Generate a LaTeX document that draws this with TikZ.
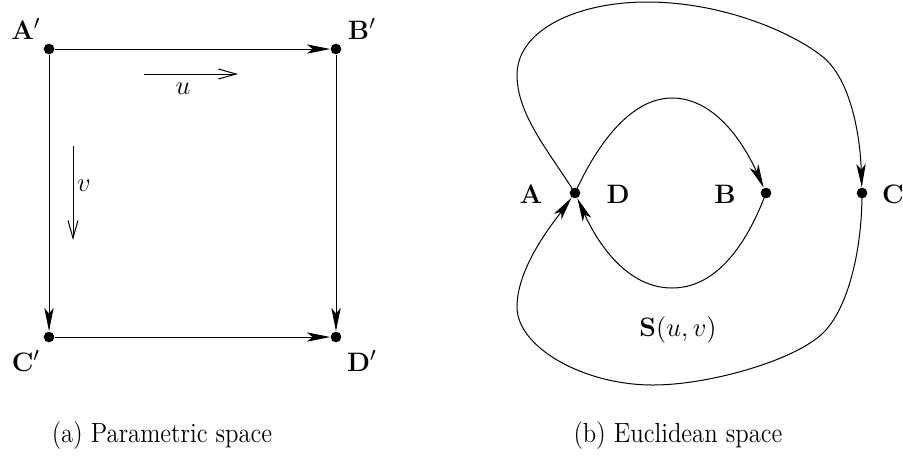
\documentclass[tikz,border=0pt]{standalone}
\usepackage{graphicx}
\usetikzlibrary{arrows.meta}
\newcommand{\capfont}{\fontsize{12.5}{15}\selectfont}
\begin{document}
\begin{tikzpicture}[x=0.45pt,y=-0.45pt,
  line width=0.45pt,
  font=\fontsize{13}{15}\selectfont,
  dot/.style={circle,fill=black,inner sep=0pt,minimum size=4.8pt},
  lab/.style={inner sep=0pt},
  edgearrow/.style={-{Stealth[length=10.5pt,width=4.2pt,inset=2.6pt]}},
  dirarrow/.style={-{Straight Barb[length=8pt,width=4.5pt,line width=0.45pt]}},
  caption/.style={inner sep=0pt}]
\useasboundingbox (0,0) rectangle (903,466);
% ---- (a) parametric space
\node[dot] (Ap) at (49,49) {};
\node[dot] (Bp) at (336,49) {};
\node[dot] (Cp) at (49,337) {};
\node[dot] (Dp) at (336,337) {};
\node[lab] (ApL) at (26,29) {$\mathbf{A}'$};
\node[lab] (BpL) at (362,29) {$\mathbf{B}'$};
\node[lab] (CpL) at (26,361) {$\mathbf{C}'$};
\node[lab] (DpL) at (362,361) {$\mathbf{D}'$};
\draw[edgearrow] (Ap) -- (Bp);
\draw[edgearrow] (Ap) -- (Cp);
\draw[edgearrow] (Bp) -- (Dp);
\draw[edgearrow] (Cp) -- (Dp);
\coordinate (u1) at (144,74);
\coordinate (u2) at (238,74);
\draw[dirarrow] (u1) -- (u2);
\node[lab] (uL) at (183,89) {$u$};
\coordinate (v1) at (73,146);
\coordinate (v2) at (73,240);
\draw[dirarrow] (v1) -- (v2);
\node[lab] (vL) at (84,186) {$v$};
\node[caption] (capa) at (162,436) {\scalebox{0.89}[1]{\capfont (a) Parametric space}};
% ---- (b) Euclidean space
\node[dot] (A) at (575,193) {};
\node[dot] (B) at (766,193) {};
\node[dot] (C) at (862,193) {};
\node[lab] (AL) at (531,194) {$\mathbf{A}$};
\node[lab] (DL) at (618,194) {$\mathbf{D}$};
\node[lab] (BL) at (725,194) {$\mathbf{B}$};
\node[lab] (CL) at (893,194) {$\mathbf{C}$};
\node[lab] (SL) at (678,330) {$\mathbf{S}(u,v)$};
% outer: A -> C over the top
\draw[edgearrow] (A.center) .. controls (550,153) and (517,115) .. (517,75)
  .. controls (517,30) and (577,2) .. (647,2)
  .. controls (722,2) and (792,32) .. (823,57)
  .. controls (850,79) and (860,133) .. (C);
% outer: C -> D along the bottom
\draw[edgearrow] (C.center) .. controls (862,258) and (845,312) .. (823,333)
  .. controls (794,361) and (708,385) .. (653,385)
  .. controls (583,385) and (517,347) .. (517,307)
  .. controls (517,267) and (553,223) .. (A);
% inner: A -> B
\draw[edgearrow] (A.center) .. controls (593,153) and (627,98) .. (672,98)
  .. controls (717,98) and (746,148) .. (B);
% inner: B -> D
\draw[edgearrow] (B.center) .. controls (751,233) and (722,288) .. (672,288)
  .. controls (622,288) and (593,233) .. (A);
\node[caption] (capb) at (678,436) {\scalebox{0.89}[1]{\capfont (b) Euclidean space}};
\end{tikzpicture}
\end{document}
